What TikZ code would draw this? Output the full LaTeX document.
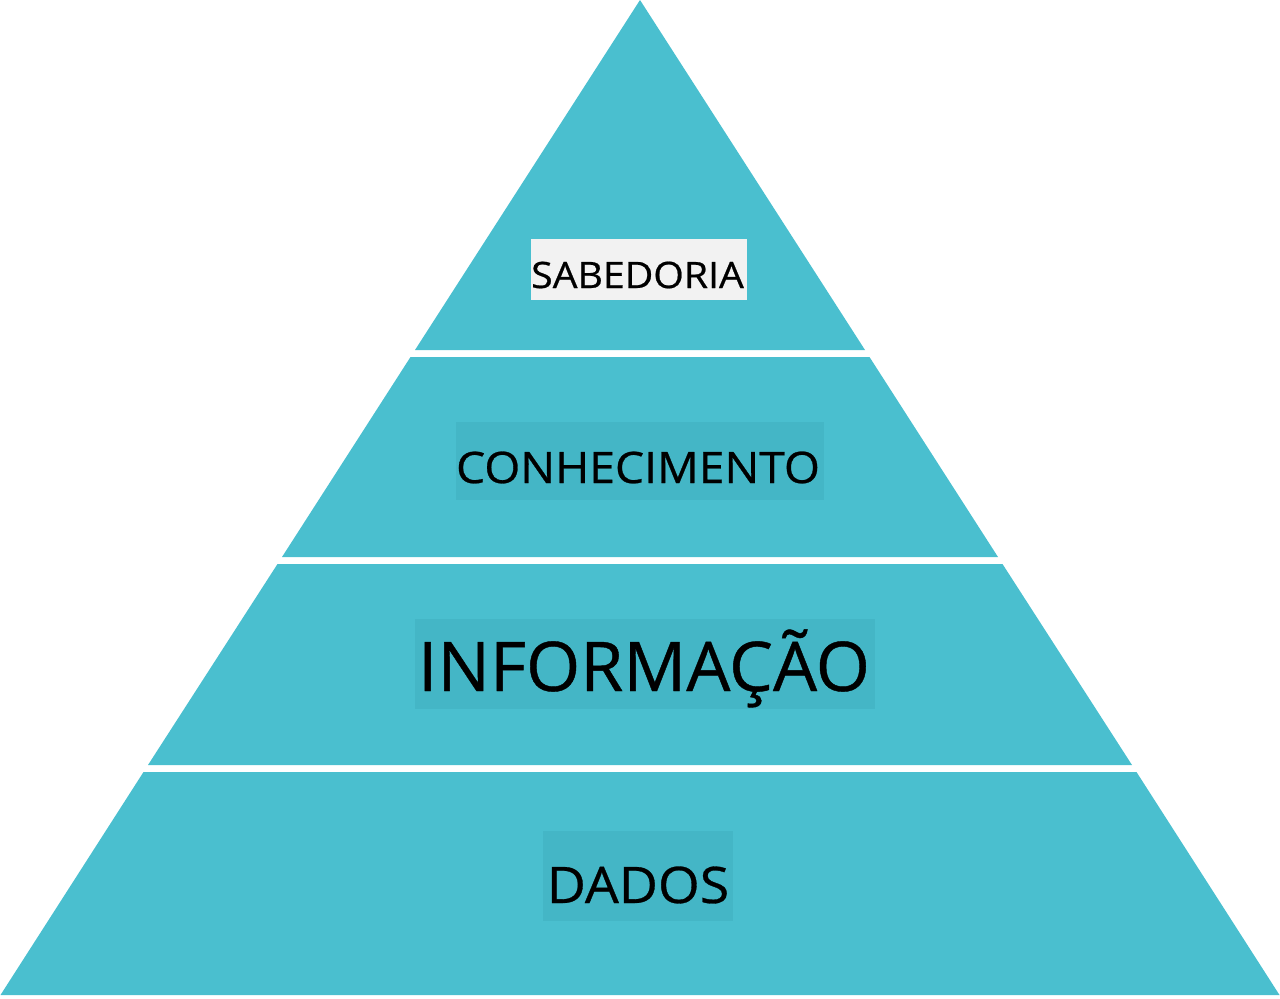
\documentclass[tikz,border=0pt]{standalone}
\usepackage{fontspec}
\setmainfont{Open Sans}[FakeBold=0.6]
\newfontfamily\lblfont{Open Sans}[FakeBold=0.6]
\definecolor{teal1}{HTML}{4ABFCF}
\definecolor{tealbox}{HTML}{44B6C6}
\definecolor{graybox}{HTML}{F2F2F2}
\tikzset{
  band/.style={fill=teal1, draw=none},
  lbl/.style={anchor=base, inner sep=0pt, text=black},
}
\begin{document}
\begin{tikzpicture}[x=0.5pt, y=-0.5pt]
\useasboundingbox (0,0) rectangle (1280,998);
% bands
\fill[band] (640,0) -- (865,350) -- (415,350) -- cycle;
\fill[band] (410.5,357) -- (869.5,357) -- (998,557) -- (282,557) -- cycle;
\fill[band] (277.5,564) -- (1002.5,564) -- (1132,765) -- (148,765) -- cycle;
\fill[band] (143.5,772) -- (1136.5,772) -- (1279.5,995) -- (0.5,995) -- cycle;
% label boxes
\fill[graybox] (531,239) rectangle (747,300);
\fill[tealbox] (456,422) rectangle (824,500);
\fill[tealbox] (415,619) rectangle (875,709);
\fill[tealbox] (543,831) rectangle (733,921);
% labels
\node[lbl, xscale=1.077, font=\lblfont\fontsize{18.2}{20}\selectfont] (sab) at (637.5,288) {SABEDORIA};
\node[lbl, xscale=1.065, font=\lblfont\fontsize{21.7}{24}\selectfont] (con) at (638,483) {CONHECIMENTO};
\node[lbl, xscale=1.016, font=\lblfont\fontsize{34.3}{38}\selectfont] (inf) at (644,691) {INFORMAÇÃO};
\node[lbl, xscale=1.065, font=\lblfont\fontsize{25.2}{28}\selectfont] (dad) at (638,903) {DADOS};
\end{tikzpicture}
\end{document}
